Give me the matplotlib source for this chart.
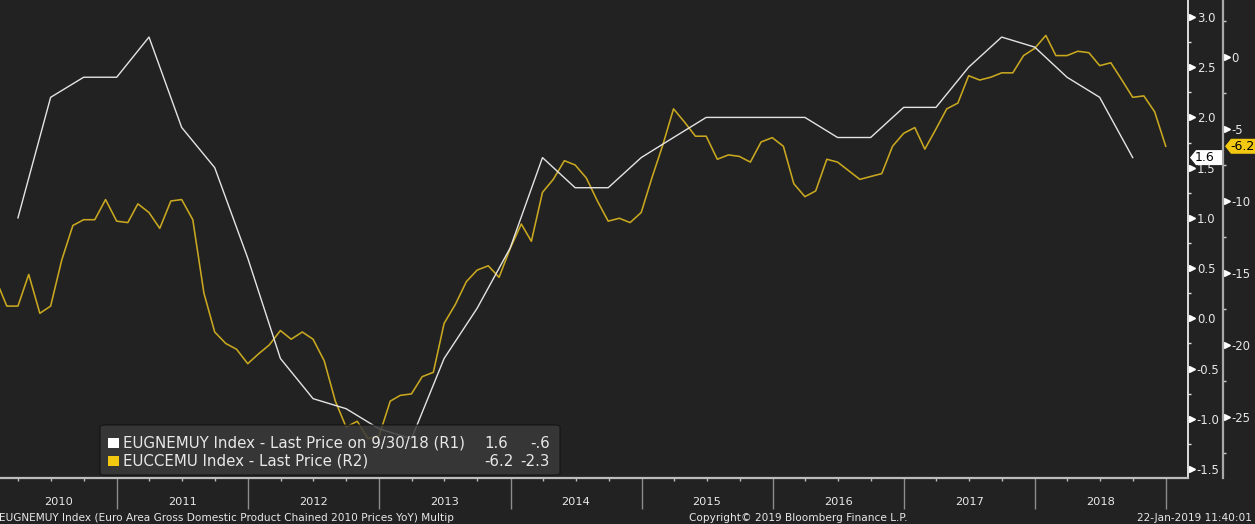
import numpy as np
import pandas as pd
import matplotlib
matplotlib.use("Agg")
import matplotlib.pyplot as plt
import matplotlib.dates as mdates
import matplotlib.transforms as mtransforms
from matplotlib.patches import FancyBboxPatch, Rectangle, Polygon

# ----------------------------
# Data
# ----------------------------
# EUGNEMUY: euro area GDP YoY, quarterly, Q1 2010 .. Q3 2018 (R1)
gdp_values = [
    1.0, 2.2, 2.4, 2.4,
    2.8, 1.9, 1.5, 0.6,
    -0.4, -0.8, -0.9, -1.1,
    -1.2, -0.4, 0.1, 0.7,
    1.6, 1.3, 1.3, 1.6,
    1.8, 2.0, 2.0, 2.0,
    2.0, 1.8, 1.8, 2.1,
    2.1, 2.5, 2.8, 2.7,
    2.4, 2.2, 1.6,
]
# EUCCEMU: euro area consumer confidence, monthly, Jan 2010 .. Dec 2018 (R2)
cc_values = [
    -15.6, -17.3, -17.3, -15.1, -17.8, -17.3, -14.1, -11.7, -11.3, -11.3, -9.9, -11.4,
    -11.5, -10.2, -10.8, -11.9, -10.0, -9.9, -11.3, -16.4, -19.1, -19.9, -20.3, -21.3,
    -20.6, -20.0, -19.0, -19.6, -19.1, -19.6, -21.1, -23.9, -25.7, -25.3, -26.5, -26.3,
    -23.9, -23.5, -23.4, -22.2, -21.9, -18.5, -17.2, -15.6, -14.8, -14.5, -15.3, -13.3,
    -11.6, -12.8, -9.4, -8.5, -7.2, -7.5, -8.4, -10.0, -11.4, -11.2, -11.5, -10.8,
    -8.3, -6.2, -3.6, -4.5, -5.5, -5.5, -7.1, -6.8, -6.9, -7.3, -5.9, -5.6,
    -6.2, -8.8, -9.7, -9.3, -7.1, -7.3, -7.9, -8.5, -8.3, -8.1, -6.2, -5.3,
    -4.9, -6.4, -5.0, -3.6, -3.2, -1.3, -1.6, -1.4, -1.1, -1.1, 0.1, 0.6,
    1.5, 0.1, 0.1, 0.4, 0.3, -0.6, -0.4, -1.6, -2.8, -2.7, -3.8, -6.2,
]
# period-end dates
gdp_dates = pd.date_range("2010-04-01", periods=len(gdp_values), freq="3MS") - pd.Timedelta(days=1)
cc_dates = pd.date_range("2010-02-01", periods=len(cc_values), freq="MS") - pd.Timedelta(days=1)

years = list(range(2010, 2019))
r1_ticks = [-1.5, -1.0, -0.5, 0.0, 0.5, 1.0, 1.5, 2.0, 2.5, 3.0]
r2_ticks = [-25, -20, -15, -10, -5, 0]

legend_rows = [
    ("EUGNEMUY Index - Last Price on 9/30/18 (R1)", "1.6", "-.6"),
    ("EUCCEMU Index - Last Price (R2)", "-6.2", "-2.3"),
]

# ----------------------------
# Style
# ----------------------------
W, H = 1255, 524
BG = "#222222"
WHITE = "#e4e4e4"
YELLOW = "#c9a820"
YELLOW_BOX = "#f2c811"
TXT = "#e8e8e8"

plt.rcParams["font.family"] = "DejaVu Sans"
plt.rcParams["axes.unicode_minus"] = False


def fx(px):
    return px / W


def fy(py):
    return 1 - py / H


fig = plt.figure(figsize=(W / 100, H / 100), dpi=100, facecolor=BG)
ax = fig.add_axes([0, fy(478), fx(1188), 478 / H])
ax2 = ax.twinx()
ax.set_zorder(ax2.get_zorder() + 1)
ax.patch.set_visible(False)
ax2.patch.set_visible(False)

ax2.plot(cc_dates, cc_values, color=YELLOW, lw=1.15)
ax.plot(gdp_dates, gdp_values, color=WHITE, lw=1.0)

# spines
for s in ["top", "left"]:
    ax.spines[s].set_visible(False)
    ax2.spines[s].set_visible(False)
ax2.spines["bottom"].set_visible(False)
ax.spines["right"].set_color("#ececec")
ax.spines["right"].set_linewidth(1.3)
ax.spines["bottom"].set_color("#bdbdbd")
ax.spines["bottom"].set_linewidth(1.6)
ax2.spines["right"].set_position(("outward", 25))
ax2.spines["right"].set_color("#a8a8a8")
ax2.spines["right"].set_linewidth(1.6)

# R1 axis
ax.yaxis.tick_right()
ax.set_yticks(r1_ticks)
ax.set_yticklabels([f"{v:.1f}" for v in r1_ticks])
ax.set_yticks([v + 0.25 for v in r1_ticks[:-1]], minor=True)
ax.tick_params(axis="y", which="major", length=0, pad=6.3, labelsize=8.4, labelcolor=TXT)
ax.tick_params(axis="y", which="minor", length=2.5, width=1, color="#dddddd", direction="out")

# R2 axis
ax2.set_yticks(r2_ticks)
ax2.set_yticklabels([f"{v:d}" for v in r2_ticks])
ax2.set_yticks([v + 2.5 for v in r2_ticks] + [r2_ticks[0] - 2.5], minor=True)
ax2.tick_params(axis="y", which="major", length=0, pad=6.3, labelsize=8.4, labelcolor=TXT)
ax2.tick_params(axis="y", which="minor", length=2.5, width=1, color="#cccccc", direction="out")

# x axis: year separators + quarter ticks
ax.set_xticks([pd.Timestamp(f"{y}-01-01") for y in years[1:] + [2019]])
ax.set_xticklabels([])
ax.xaxis.set_minor_locator(mdates.MonthLocator(bymonth=[4, 7, 10]))
ax.tick_params(axis="x", which="major", length=22, width=1, color="#8c8c8c", direction="out")
ax.tick_params(axis="x", which="minor", length=2.5, width=1, color="#bdbdbd", direction="out")

# limits last, so tick setters cannot widen them
x0, x1 = pd.Timestamp("2010-02-09"), pd.Timestamp("2019-03-03")
ax.set_xlim(x0, x1)
ax.set_ylim(-1.59, 3.169)
ax2.set_ylim(-29.24, 3.96)

# triangle tick marks
tri1 = mtransforms.blended_transform_factory(fig.transFigure, ax.transData)
tri2 = mtransforms.blended_transform_factory(fig.transFigure, ax2.transData)
ax.plot([fx(1192)] * len(r1_ticks), r1_ticks, ls="none", marker=">", ms=5, color="white",
        transform=tri1, clip_on=False)
ax2.plot([fx(1226.5)] * len(r2_ticks), r2_ticks, ls="none", marker=">", ms=5, color="white",
         transform=tri2, clip_on=False)

ylab = mtransforms.blended_transform_factory(ax.transData, fig.transFigure)
for y in years:
    a = max(pd.Timestamp(f"{y}-01-01"), x0)
    b = min(pd.Timestamp(f"{y + 1}-01-01"), x1)
    mid = a + (b - a) / 2
    ax.text(mdates.date2num(mid), fy(502), str(y), transform=ylab, ha="center", va="center",
            fontsize=8.2, color=TXT, clip_on=False)


# last-value tags
def tag(axis, value, x_tip, x_right, color, label, trans):
    lo, hi = axis.get_ylim()
    h = 7.5 * (hi - lo) / 478
    verts = [(fx(x_tip), value), (fx(x_tip + 6), value + h), (fx(x_right), value + h),
             (fx(x_right), value - h), (fx(x_tip + 6), value - h)]
    axis.add_patch(Polygon(verts, closed=True, transform=trans, facecolor=color,
                           edgecolor="none", clip_on=False, zorder=5))
    axis.text(fx(x_tip + 5), value, label, transform=trans, ha="left", va="center",
              fontsize=9, color="black", clip_on=False, zorder=6)


tag(ax, gdp_values[-1], 1190, 1222, "white", f"{gdp_values[-1]:.1f}", tri1)
tag(ax2, cc_values[-1], 1225, 1258, YELLOW_BOX, f"{cc_values[-1]:.1f}", tri2)
ax.set_ylim(-1.59, 3.169)
ax2.set_ylim(-29.24, 3.96)

# legend box (Bloomberg style, semi-transparent)
fig.add_artist(FancyBboxPatch((fx(100), fy(475)), fx(460), 50 / H,
                              boxstyle="round,pad=0,rounding_size=0.004",
                              transform=fig.transFigure, facecolor="#3a3a3a", alpha=0.85,
                              edgecolor="#111111", lw=0.8, zorder=10))
for i, ((name, v1, v2), col) in enumerate(zip(legend_rows, ["white", YELLOW_BOX])):
    cy = 443 + i * 18
    fig.add_artist(Rectangle((fx(108), fy(cy + 5)), fx(11), 10 / H, transform=fig.transFigure,
                             facecolor=col, edgecolor="none", zorder=11))
    fig.text(fx(123), fy(cy), name, ha="left", va="center", fontsize=10.8, color=TXT, zorder=12)
    fig.text(fx(484), fy(cy), v1, ha="left", va="center", fontsize=10.8, color=TXT, zorder=12)
    fig.text(fx(550), fy(cy), v2, ha="right", va="center", fontsize=10.8, color=TXT, zorder=12)

# footer
fig.text(fx(-1), fy(518), "EUGNEMUY Index (Euro Area Gross Domestic Product Chained 2010 Prices YoY) Multip",
         ha="left", va="center", fontsize=7.6, color=TXT)
fig.text(fx(798), fy(518), "Copyright\u00a9 2019 Bloomberg Finance L.P.", ha="center", va="center",
         fontsize=7.6, color=TXT)
fig.text(fx(1252), fy(518), "22-Jan-2019 11:40:01", ha="right", va="center", fontsize=7.6, color=TXT)

fig.savefig("out.png", dpi=100, facecolor=BG)
plt.close(fig)
